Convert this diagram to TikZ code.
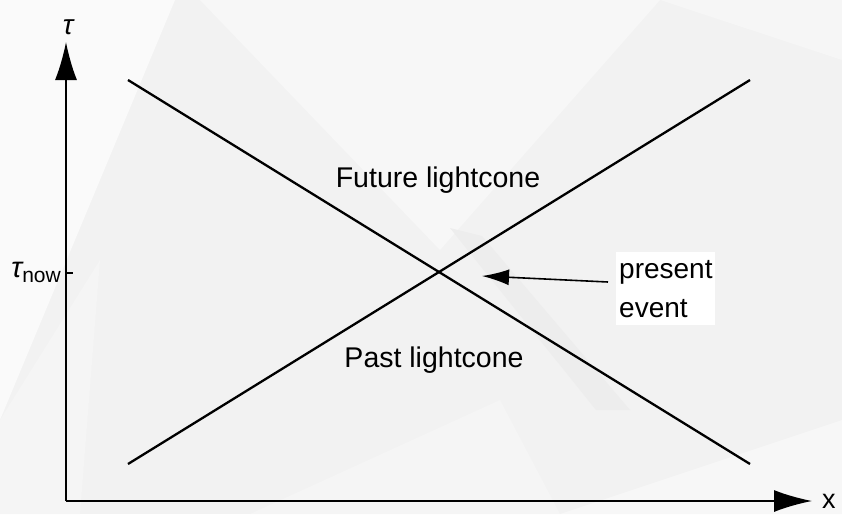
\documentclass[tikz,border=0pt]{standalone}
\usepackage{fontspec}
\setmainfont{Liberation Sans}
\usetikzlibrary{arrows.meta}

\tikzset{
  axis/.style={line width=1.6pt, -{Latex[length=38pt,width=22pt]}},
  coneline/.style={line width=2.3pt},
  pointer/.style={line width=1.6pt, -{Latex[length=27pt,width=16pt]}},
  region/.style={font=\fontsize{28.5}{32}\selectfont, inner sep=0pt},
  facet/.style={draw=none},
}

\begin{document}
\begin{tikzpicture}[x=1pt,y=-1pt]
  \useasboundingbox (0,0) rectangle (842,514);

  % faceted grey backdrop
  \fill[black!5] (0,0) rectangle (842,514);
  \fill[facet, black!2] (0,0) -- (175,0) -- (0,420) -- cycle;
  \fill[facet, black!3] (200,0) -- (660,0) -- (440,250) -- cycle;
  \fill[facet, black!3.5] (660,0) -- (842,0) -- (842,60) -- cycle;
  \fill[facet, black!7] (450,228) -- (482,236) -- (630,410) -- (596,410) -- cycle;
  \fill[facet, black!4] (0,420) -- (100,260) -- (80,514) -- (0,514) -- cycle;
  \fill[facet, black!3] (560,514) -- (842,420) -- (842,514) -- cycle;
  \fill[facet, black!4] (250,514) -- (500,400) -- (560,514) -- cycle;

  % axes
  \coordinate (O) at (66,501);
  \coordinate (ytop) at (66,42);
  \coordinate (xend) at (812,501);
  \draw[axis] (O) -- (ytop);
  \draw[axis] (O) -- (xend);
  \node[font=\fontsize{28}{30}\selectfont\itshape, anchor=south] (taulab) at (68,38) {τ};
  \node[font=\fontsize{27}{30}\selectfont, anchor=base west, inner sep=0pt] (xlab) at (822,508) {x};

  % tick for the present time
  \coordinate (tick) at (66,273);
  \coordinate (tickend) at (73,273);
  \draw[line width=1.4pt] (tick) -- (tickend);
  \node[anchor=east, inner sep=0pt] (taunow) at (61,272)
    {{\fontsize{29}{30}\selectfont\itshape τ}\raisebox{-5pt}{\fontsize{21}{24}\selectfont now}};

  % light cone lines
  \coordinate (a1) at (128,80);
  \coordinate (a2) at (750,464);
  \coordinate (b1) at (128,464);
  \coordinate (b2) at (750,80);
  \draw[coneline] (a1) -- (a2);
  \draw[coneline] (b1) -- (b2);
  \coordinate (ev) at (439,272);

  % region labels
  \node[region] (future) at (438,180) {Future lightcone};
  \node[region] (past) at (434,360) {Past lightcone};

  % present event label and pointer
  \node[fill=white, anchor=north west, inner sep=0pt, minimum width=99pt,
        minimum height=73pt, text width=95pt, align=left,
        font=\fontsize{28}{39}\selectfont] (present) at (616,252)
    {\hspace*{1pt}present\\\hspace*{1pt}event};
  \coordinate (ptail) at (608,282);
  \coordinate (ptip) at (482,276);
  \draw[pointer] (ptail) -- (ptip);
\end{tikzpicture}
\end{document}
